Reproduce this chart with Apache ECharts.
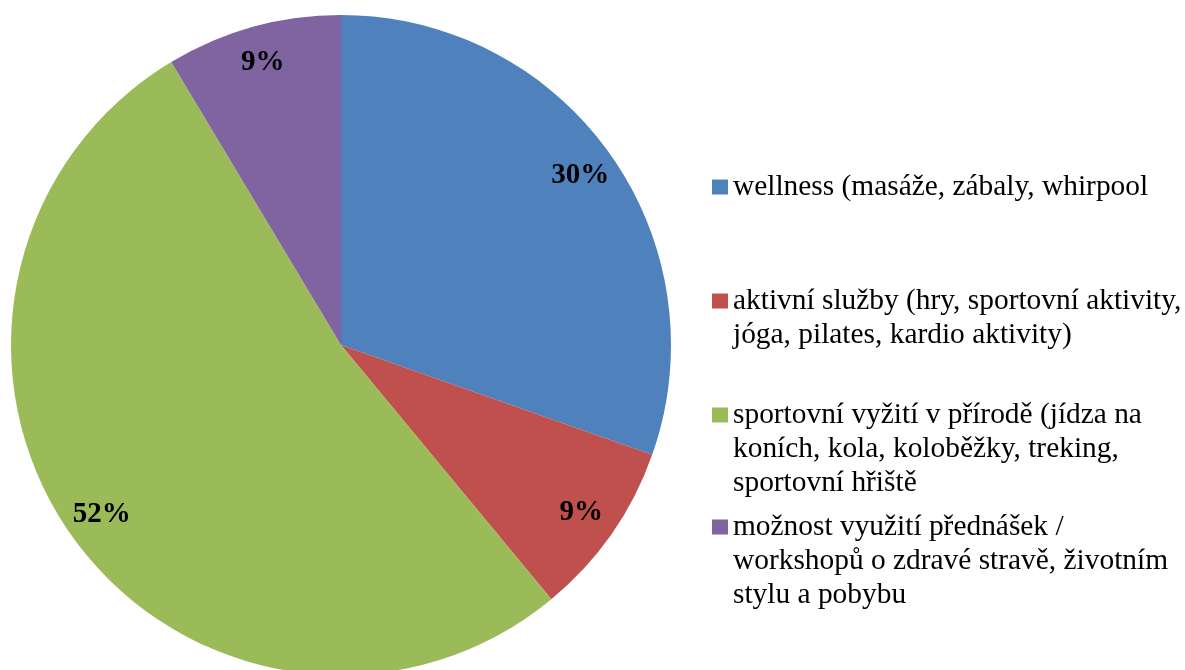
<!DOCTYPE html>
<html>
<head>
<meta charset="utf-8">
<script src="https://cdn.jsdelivr.net/npm/echarts@6/dist/echarts.min.js"></script>
<style>
	html, body { margin: 0; padding: 0; background: #fff; }
	#pie-container { width: 1185px; height: 670px; }
</style>
</head>
<body>
<div id="pie-container"></div>
<script>
	var kategorie = [
		'wellness (masáže, zábaly, whirpool',
		'aktivní služby (hry, sportovní aktivity,\njóga, pilates, kardio aktivity)',
		'sportovní vyžití v přírodě (jídza na\nkoních, kola, koloběžky, treking,\nsportovní hřiště',
		'možnost využití přednášek /\nworkshopů o zdravé stravě, životním\nstylu a pobybu'
	];
	var hodnoty = [30.4, 8.6, 52.4, 8.6];
	var barvy = ['#4F81BD', '#C0504D', '#9BBB59', '#8064A2'];

	var font_serif = 'Liberation Serif, Times New Roman, serif';
	var legend_line = 34;
	var legend_icon_y = [187, 301, 415, 527];

	var data_pie = [];
	for (var i = 0; i < kategorie.length; i++) {
		data_pie.push({ name: kategorie[i], value: hodnoty[i] });
	}

	// one legend per item, so each one can sit at its own place
	var legends = [];
	for (var j = 0; j < kategorie.length; j++) {
		var lines = kategorie[j].split('\n').length;
		legends.push({
			orient: 'vertical',
			left: 712,
			top: legend_icon_y[j] - (2 * lines - 1) * legend_line / 2,
			padding: 0,
			itemWidth: 16,
			itemHeight: 15,
			icon: 'rect',
			selectedMode: false,
			data: [kategorie[j]],
			formatter: function (name) {
				var n = name.split('\n').length;
				return new Array(n).join('\n') + name;
			},
			textStyle: {
				fontFamily: font_serif,
				fontSize: 29.4,
				lineHeight: legend_line,
				color: '#000'
			}
		});
	}

	var pieChart = echarts.init(document.getElementById('pie-container'));
	var pieChartOptions = {
		animation: false,
		color: barvy,
		legend: legends,
		series: [
			{
				name: 'Služby',
				type: 'pie',
				center: [341, 345],
				radius: [0, 330],
				startAngle: 90,
				clockwise: true,
				label: { show: false },
				labelLine: { show: false },
				emphasis: { scale: false },
				itemStyle: { borderWidth: 0 },
				data: data_pie
			},
			{
				// transparent ring, only carries the percent labels
				name: 'Popisky',
				type: 'pie',
				silent: true,
				center: [341, 345],
				radius: [250, 330],
				startAngle: 90,
				clockwise: true,
				itemStyle: { color: 'rgba(0,0,0,0)', borderWidth: 0 },
				emphasis: { disabled: true },
				label: {
					show: true,
					position: 'inside',
					formatter: function (p) { return Math.round(p.percent) + '%'; },
					fontFamily: font_serif,
					fontWeight: 'bold',
					fontSize: 29,
					color: '#000'
				},
				labelLine: { show: false },
				data: data_pie
			}
		]
	};

	pieChart.setOption(pieChartOptions, true);
</script>
</body>
</html>
